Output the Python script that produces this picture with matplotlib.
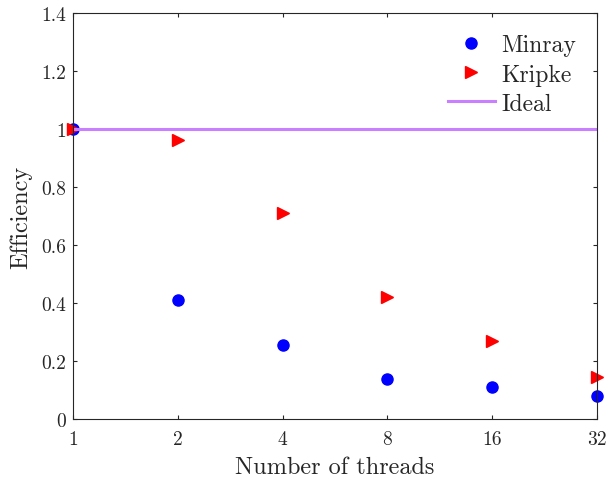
import matplotlib
matplotlib.use("Agg")
import matplotlib.pyplot as plt
import numpy as np

# thread counts and parallel efficiency for each code
threads = [1, 2, 4, 8, 16, 32]
minray = [1.0, 0.411, 0.256, 0.138, 0.110, 0.080]
kripke = [1.0, 0.961, 0.709, 0.422, 0.270, 0.145]
ideal = [1.0, 1.0, 1.0, 1.0, 1.0, 1.0]
yticks = [0, 0.2, 0.4, 0.6, 0.8, 1, 1.2, 1.4]
ytick_labels = ['0', '0.2', '0.4', '0.6', '0.8', '1', '1.2', '1.4']

plt.rcParams['font.family'] = 'serif'
plt.rcParams['font.serif'] = ['cmr10']
plt.rcParams['axes.formatter.use_mathtext'] = True
ink = '#262626'

fig = plt.figure(figsize=(6.08, 4.81), dpi=100)
ax = fig.add_axes([0.120, 0.127, 0.862, 0.844])

ax.plot(threads, minray, 'o', color='#0000ff', markersize=8, label='Minray', clip_on=False)
ax.plot(threads, kripke, '>', color='#ff0000', markersize=8, label='Kripke', clip_on=False)
ax.plot(threads, ideal, '-', color='#c880ff', linewidth=2.2, label='Ideal')

ax.set_xscale('log', base=2)
ax.set_xlim(1, 32)
ax.set_ylim(0, 1.4)
ax.set_xticks(threads)
ax.set_xticklabels([str(t) for t in threads])
ax.minorticks_off()
ax.set_yticks(yticks)
ax.set_yticklabels(ytick_labels)
ax.tick_params(direction='in', top=True, right=True, labelsize=14, length=3,
               width=0.8, colors=ink, pad=5)
ax.tick_params(axis='x', pad=8)

for s in ax.spines.values():
    s.set_linewidth(0.8)
    s.set_color(ink)

ax.set_xlabel('Number of threads', fontsize=17.5, color=ink, labelpad=6)
ax.set_ylabel('Efficiency', fontsize=17.5, color=ink, labelpad=6)

leg = ax.legend(loc='upper right', frameon=False, fontsize=17, handlelength=2.0,
                handletextpad=0.25, borderaxespad=0.5, labelspacing=0.3)
for t in leg.get_texts():
    t.set_color(ink)

fig.savefig('out.png', dpi=100)
